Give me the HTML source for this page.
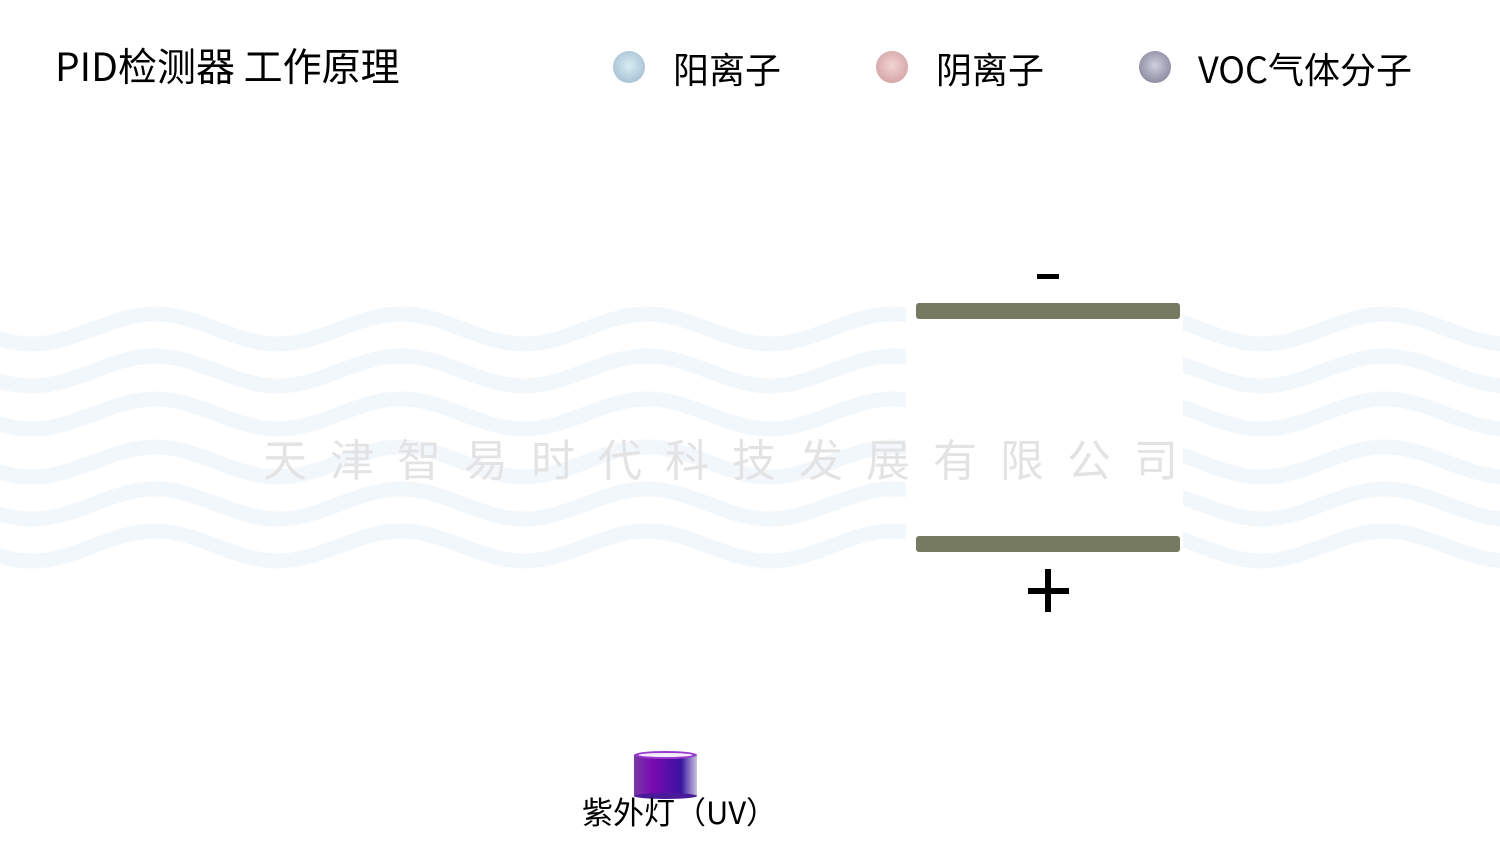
<!DOCTYPE html>
<html><head><meta charset="utf-8"><style>
body{margin:0;width:1500px;height:844px;background:#fff;position:relative;overflow:hidden;font-family:"Noto Sans CJK SC","Liberation Sans",sans-serif}
.t{position:absolute;white-space:nowrap;color:#000;line-height:1}
</style></head><body>
<svg width="1500" height="844" style="position:absolute;left:0;top:0">
<defs>
<path id="w" d="M-214,15 C-170,15 -135,-15 -91,-15 C-47,-15 -12,15 32,15 C76,15 111,-15 155,-15 C199,-15 234,15 278,15 C322,15 357,-15 401,-15 C445,-15 480,15 524,15 C568,15 603,-15 647,-15 C691,-15 726,15 770,15 C814,15 849,-15 893,-15 C937,-15 972,15 1016,15 C1060,15 1095,-15 1139,-15 C1183,-15 1218,15 1262,15 C1306,15 1341,-15 1385,-15 C1429,-15 1464,15 1508,15 C1552,15 1587,-15 1631,-15" fill="none" stroke="#f2f7fc" stroke-width="15"/>
<clipPath id="c"><rect x="0" y="0" width="906" height="844"/><rect x="1183" y="0" width="317" height="844"/></clipPath>
<radialGradient id="g1" cx="50%" cy="45%" r="55%"><stop offset="0" stop-color="#d6ecf2"/><stop offset="1" stop-color="#a9c3d6"/></radialGradient>
<radialGradient id="g2" cx="50%" cy="45%" r="55%"><stop offset="0" stop-color="#f2d4d4"/><stop offset="1" stop-color="#d6a6a8"/></radialGradient>
<radialGradient id="g3" cx="50%" cy="45%" r="55%"><stop offset="0" stop-color="#cfcfdc"/><stop offset="1" stop-color="#8d8ca2"/></radialGradient>
<linearGradient id="lp" x1="0" x2="1"><stop offset="0" stop-color="#7a3aa8"/><stop offset="0.3" stop-color="#7a08b0"/><stop offset="0.75" stop-color="#3a14a0"/><stop offset="1" stop-color="#c8c4e0"/></linearGradient>
</defs>
<g clip-path="url(#c)">
<use href="#w" y="329"/><use href="#w" y="371"/><use href="#w" y="414"/><use href="#w" y="462"/><use href="#w" y="504"/><use href="#w" y="546"/>
</g>
<text x="263" y="476" font-size="44" fill="#e3e3e3" letter-spacing="23" font-family="Noto Sans CJK SC, sans-serif">天津智易时代科技发展有限公司</text>
<circle cx="629" cy="67" r="16" fill="url(#g1)"/>
<circle cx="892" cy="67" r="16" fill="url(#g2)"/>
<circle cx="1155" cy="67" r="16" fill="url(#g3)"/>
<rect x="916" y="303" width="264" height="16" rx="3" fill="#767a60"/>
<rect x="916" y="536" width="264" height="16" rx="3" fill="#767a60"/>
<rect x="1037" y="274" width="22" height="5" fill="#000"/>
<rect x="1028" y="588" width="41" height="6" fill="#000"/>
<rect x="1045" y="569" width="6" height="43" fill="#000"/>
<rect x="634" y="755" width="63" height="41" fill="url(#lp)"/>
<ellipse cx="665.5" cy="796" rx="31.5" ry="3" fill="#4a1a9a"/>
<ellipse cx="665.5" cy="755" rx="31.5" ry="4" fill="#9a3ad0"/>
<ellipse cx="665.5" cy="755" rx="27" ry="2" fill="#f4eefa"/>
</svg>
<div class="t" style="left:55px;top:46px;font-size:39px">PID检测器 工作原理</div>
<div class="t" style="left:673px;top:50px;font-size:36px">阳离子</div>
<div class="t" style="left:936px;top:50px;font-size:36px">阴离子</div>
<div class="t" style="left:1198px;top:50px;font-size:36px">VOC气体分子</div>
<div class="t" style="left:582px;top:795px;font-size:31px">紫外灯（UV）</div>
</body></html>
